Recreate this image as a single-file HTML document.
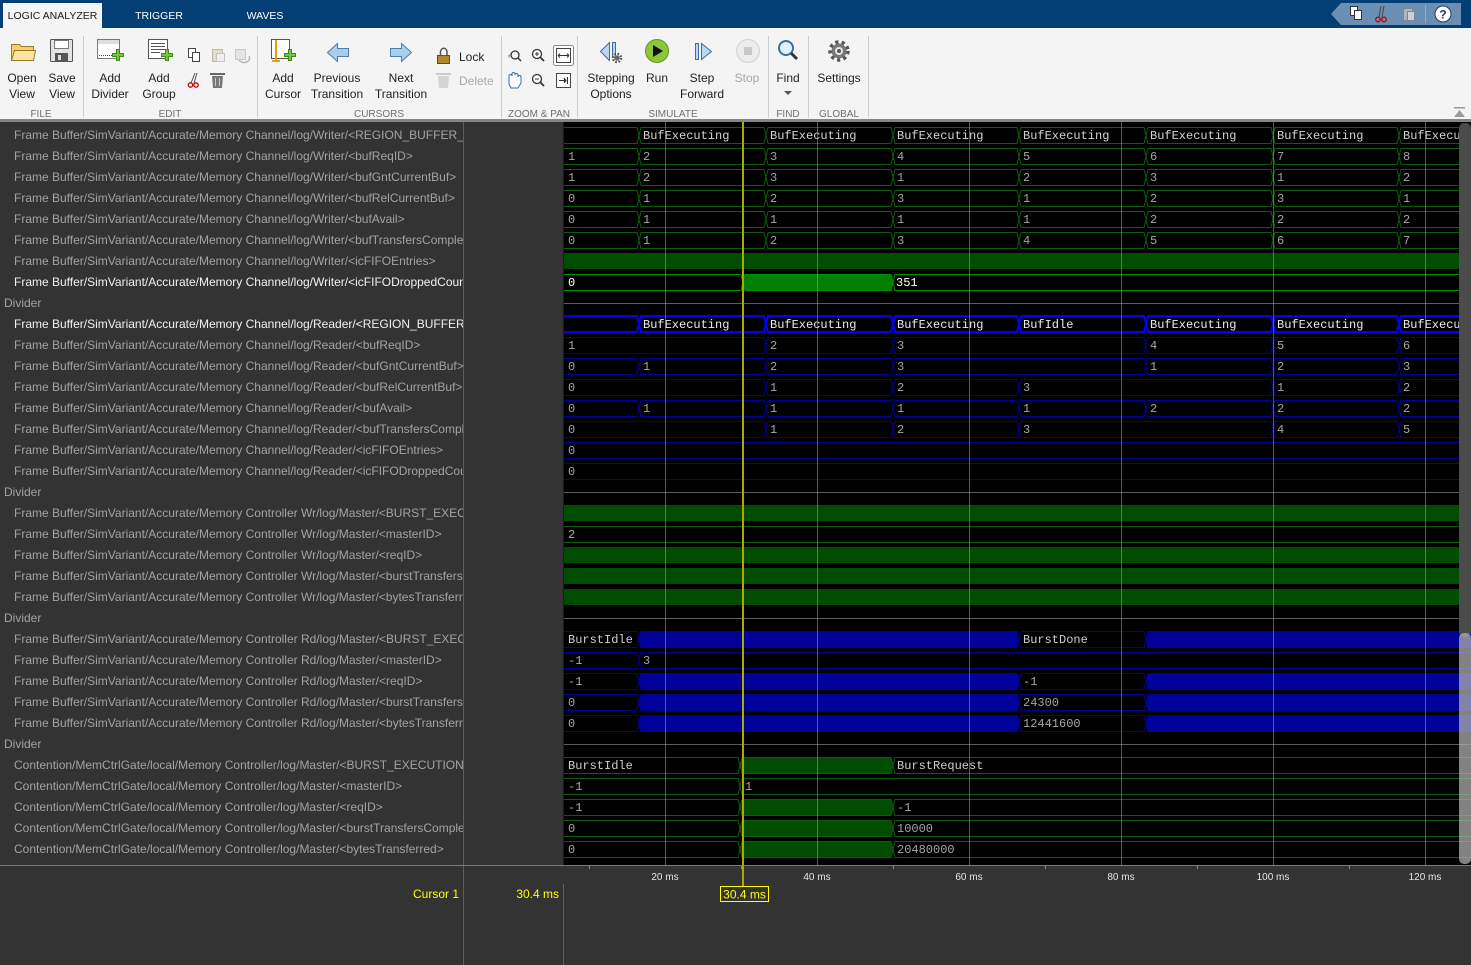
<!DOCTYPE html>
<html><head><meta charset="utf-8"><style>
html,body{margin:0;padding:0;background:#333;width:1471px;height:965px;overflow:hidden}
svg{position:absolute;left:0;top:0;display:block}
.s{font-family:"Liberation Sans",Arial,sans-serif}
.m{font-family:"Liberation Mono","Courier New",monospace}
</style></head><body>
<svg width="1471" height="965" viewBox="0 0 1471 965" xmlns="http://www.w3.org/2000/svg">
<defs>
<clipPath id="nc"><rect x="0" y="122" width="463" height="743"/></clipPath>
<clipPath id="wc"><rect x="564" y="122" width="907" height="743"/></clipPath>
</defs>
<rect x="0" y="0" width="1471" height="965" fill="#333"/>
<rect x="0" y="0" width="1471" height="28" fill="#033f74"/>
<rect x="3" y="3" width="99" height="25" fill="#f4f4f4"/>
<g class="s" font-size="10.5">
<text x="52.5" y="19" text-anchor="middle" fill="#1a1a1a">LOGIC ANALYZER</text>
<text x="159" y="19" text-anchor="middle" fill="#fff">TRIGGER</text>
<text x="265" y="19" text-anchor="middle" fill="#fff">WAVES</text>
</g>
<polygon points="1331,14 1341,3 1461,3 1461,25 1341,25" fill="#6b8fb4"/>
<rect x="1350.5" y="6.5" width="7" height="9" fill="#fff" stroke="#333"/>
<rect x="1354.5" y="10.5" width="7" height="9" fill="#fff" stroke="#333"/>
<line x1="1381" y1="6" x2="1379" y2="17" stroke="#444"/><line x1="1384" y1="6" x2="1382" y2="17" stroke="#444"/>
<circle cx="1378" cy="19.5" r="2.3" fill="none" stroke="#c00" stroke-width="1.3"/>
<circle cx="1384" cy="19.5" r="2.3" fill="none" stroke="#c00" stroke-width="1.3"/>
<rect x="1403.5" y="8.5" width="9" height="12" fill="#aab6c2" stroke="#7a8794"/>
<rect x="1407.5" y="11.5" width="7" height="9" fill="#c9d1d9" stroke="#7a8794"/>
<line x1="1425.5" y1="5" x2="1425.5" y2="23" stroke="#95aec7"/>
<circle cx="1443" cy="14" r="8" fill="#fff" stroke="#1c3b64"/>
<text x="1443" y="18.5" text-anchor="middle" class="s" font-size="12" font-weight="bold" fill="#1c3b64">?</text>

<rect x="0" y="28" width="1471" height="92" fill="#f4f4f4"/>
<rect x="0" y="119" width="1471" height="3" fill="#858585"/>
<g stroke="#cdcdcd">
<line x1="83.5" y1="36" x2="83.5" y2="118"/><line x1="257.5" y1="36" x2="257.5" y2="118"/>
<line x1="501.5" y1="36" x2="501.5" y2="118"/><line x1="577.5" y1="36" x2="577.5" y2="118"/>
<line x1="768.5" y1="36" x2="768.5" y2="118"/><line x1="808.5" y1="36" x2="808.5" y2="118"/>
<line x1="868.5" y1="36" x2="868.5" y2="118"/>
</g>
<path d="M11.5,44.5h8l2,2h12v14h-22z" fill="#f2cf6b" stroke="#9a7a28"/>
<path d="M11.5,60.5l3,-10h21l-2,10z" fill="#fbe6a0" stroke="#9a7a28"/>
<rect x="50.5" y="39.5" width="22" height="22" rx="1" fill="#e4e4e4" stroke="#555"/>
<rect x="54.5" y="40.5" width="14" height="8" fill="#fff" stroke="#777"/>
<rect x="55" y="53" width="13" height="8" fill="#555"/><rect x="58" y="55" width="3" height="5" fill="#ddd"/>
<rect x="97.5" y="39.5" width="22" height="19" fill="#fff" stroke="#777"/>
<rect x="98" y="40" width="21" height="4" fill="#ddd"/>
<line x1="99" y1="55.5" x2="112" y2="55.5" stroke="#444" stroke-dasharray="1,1"/>
<path d="M112.5,53.5h4v-4h3v4h4v3h-4v4h-3v-4h-4z" fill="#7cc242" stroke="#3d8a1a"/>
<rect x="148.5" y="39.5" width="19" height="19" fill="#fff" stroke="#555"/>
<g stroke="#555"><line x1="151" y1="43.5" x2="165" y2="43.5"/><line x1="151" y1="46.5" x2="165" y2="46.5"/><line x1="151" y1="49.5" x2="165" y2="49.5"/><line x1="151" y1="52.5" x2="160" y2="52.5"/></g>
<path d="M161.5,53.5h4v-4h3v4h4v3h-4v4h-3v-4h-4z" fill="#7cc242" stroke="#3d8a1a"/>
<rect x="188.5" y="48.5" width="7" height="9" fill="#fff" stroke="#444"/><rect x="192.5" y="52.5" width="7" height="9" fill="#fff" stroke="#444"/>
<rect x="212.5" y="49.5" width="10" height="12" fill="#e6dccb" stroke="#c4b9a8"/><rect x="216.5" y="53.5" width="8" height="8" fill="#eee" stroke="#c4c4c4"/>
<rect x="235.5" y="49.5" width="10" height="10" fill="#e4e4e4" stroke="#c8c8c8"/><path d="M239,60a5,4 0 1 0 10,-4" fill="none" stroke="#bbb" stroke-width="1.5"/>
<line x1="195" y1="73" x2="191" y2="83" stroke="#555"/><line x1="197" y1="73" x2="194" y2="83" stroke="#555"/>
<circle cx="190.5" cy="85" r="2.2" fill="none" stroke="#c00" stroke-width="1.3"/><circle cx="196" cy="85" r="2.2" fill="none" stroke="#c00" stroke-width="1.3"/>
<rect x="210" y="73" width="15" height="2" fill="#666"/><path d="M212,76h11l-1,12h-9z" fill="#777"/>
<g stroke="#ccc"><line x1="215.5" y1="78" x2="215.5" y2="86"/><line x1="219.5" y1="78" x2="219.5" y2="86"/></g>
<rect x="271.5" y="39.5" width="18" height="19" fill="#fff" stroke="#555"/>
<line x1="276" y1="40" x2="276" y2="62" stroke="#e8a010" stroke-width="2"/>
<rect x="272" y="60" width="8" height="2" fill="#e8a010"/>
<path d="M284.5,53.5h4v-4h3v4h4v3h-4v4h-3v-4h-4z" fill="#7cc242" stroke="#3d8a1a"/>
<polygon points="327.5,52.5 337.5,43.5 337.5,48.5 348.5,48.5 348.5,56.5 337.5,56.5 337.5,61.5" fill="#a9cdea" stroke="#4a7fb0"/>
<polygon points="411.5,52.5 401.5,43.5 401.5,48.5 390.5,48.5 390.5,56.5 401.5,56.5 401.5,61.5" fill="#a9cdea" stroke="#4a7fb0"/>
<path d="M440.5,55v-3a3,3.5 0 0 1 6.5,0v3" fill="none" stroke="#555" stroke-width="1.5"/>
<rect x="437.5" y="55.5" width="12" height="8" fill="#b3862b" stroke="#6a4c12"/>
<rect x="436" y="73" width="15" height="2" fill="#ccc"/><path d="M438,76h11l-1,12h-9z" fill="#d4d4d4"/>
<circle cx="515" cy="55" r="4" fill="none" stroke="#333" stroke-width="1.3"/><line x1="518" y1="58" x2="521" y2="61" stroke="#333" stroke-width="1.5"/>
<text x="508" y="58" font-size="7" class="s" fill="#333">‹</text>
<circle cx="537" cy="54" r="4.5" fill="#fff" stroke="#333" stroke-width="1.3"/><line x1="540" y1="57" x2="544" y2="61" stroke="#333" stroke-width="1.8"/>
<path d="M535,54h4M537,52v4" stroke="#333"/>
<rect x="553.5" y="45.5" width="20" height="20" rx="2" fill="#fff" stroke="#4c9be0"/>
<rect x="556.5" y="48.5" width="14" height="14" fill="#fff" stroke="#444"/>
<path d="M558,55.5h11M558,55.5l2,-2M558,55.5l2,2M569,55.5l-2,-2M569,55.5l-2,2" stroke="#333"/>
<path d="M509,84v-8a1.5,1.5 0 0 1 3,0v-2a1.5,1.5 0 0 1 3,0v1a1.5,1.5 0 0 1 3,0v2a1.5,1.5 0 0 1 3,0v6l-3,5h-7z" fill="#fff" stroke="#3a6ea8"/>
<circle cx="537" cy="79" r="4.5" fill="#fff" stroke="#333" stroke-width="1.3"/><line x1="540" y1="82" x2="544" y2="86" stroke="#333" stroke-width="1.8"/>
<path d="M535,79h4" stroke="#333"/>
<rect x="556.5" y="73.5" width="14" height="14" fill="#fff" stroke="#444"/>
<path d="M559,80.5h7M564,78l2,2.5l-2,2.5M567.5,77v7" stroke="#333"/>
<polygon points="600.5,51.5 609.5,42.5 609.5,60.5" fill="#bcd6ee" stroke="#3a6ea8"/>
<rect x="612.5" y="42.5" width="3" height="15" fill="#bcd6ee" stroke="#3a6ea8"/>
<circle cx="617" cy="58" r="4" fill="none" stroke="#555" stroke-width="2.5" stroke-dasharray="1.6 1.6"/><circle cx="617" cy="58" r="2.5" fill="#666"/>
<circle cx="657" cy="51" r="11.5" fill="#8cc63f" stroke="#5a9a1e"/>
<polygon points="653,45 653,57 663,51" fill="#111"/>
<rect x="695.5" y="43.5" width="3" height="16" fill="#bcd6ee" stroke="#3a6ea8"/>
<polygon points="701.5,43.5 701.5,59.5 711.5,51.5" fill="#bcd6ee" stroke="#3a6ea8"/>
<circle cx="748" cy="51" r="11.5" fill="#ececec" stroke="#d2d2d2"/>
<rect x="744" y="47" width="8" height="8" fill="#c8c8c8"/>
<circle cx="786" cy="48" r="7" fill="#e2f1fb" stroke="#3a6ea8" stroke-width="2"/>
<line x1="791" y1="53" x2="797" y2="59" stroke="#333" stroke-width="3"/>
<polygon points="784,91 792,91 788,95" fill="#555"/>
<circle cx="839" cy="51" r="9" fill="none" stroke="#555" stroke-width="3.5" stroke-dasharray="3.2 3.2"/>
<circle cx="839" cy="51" r="7.5" fill="#777"/><circle cx="839" cy="51" r="4" fill="#e6e6e6"/><circle cx="839" cy="51" r="2" fill="#555"/>
<rect x="1454" y="107" width="11" height="1.5" fill="#999"/><polygon points="1454,117 1465,117 1459.5,110" fill="#999"/>
<g class="s" font-size="12" fill="#222" text-anchor="middle">
<text x="22" y="82">Open</text><text x="22" y="98">View</text>
<text x="62" y="82">Save</text><text x="62" y="98">View</text>
<text x="110" y="82">Add</text><text x="110" y="98">Divider</text>
<text x="159" y="82">Add</text><text x="159" y="98">Group</text>
<text x="283" y="82">Add</text><text x="283" y="98">Cursor</text>
<text x="337" y="82">Previous</text><text x="337" y="98">Transition</text>
<text x="401" y="82">Next</text><text x="401" y="98">Transition</text>
<text x="611" y="82">Stepping</text><text x="611" y="98">Options</text>
<text x="657" y="82">Run</text>
<text x="702" y="82">Step</text><text x="702" y="98">Forward</text>
<text x="747" y="82" fill="#a8a8a8">Stop</text>
<text x="788" y="82">Find</text>
<text x="839" y="82">Settings</text>
</g>
<text x="459" y="61" class="s" font-size="12" fill="#222">Lock</text>
<text x="459" y="85" class="s" font-size="12" fill="#aaa">Delete</text>
<g class="s" font-size="10" fill="#707070" text-anchor="middle">
<text x="41" y="117">FILE</text><text x="170" y="117">EDIT</text><text x="379" y="117">CURSORS</text>
<text x="539" y="117">ZOOM &amp; PAN</text><text x="673" y="117">SIMULATE</text><text x="788" y="117">FIND</text><text x="839" y="117">GLOBAL</text>
</g>

<g clip-path="url(#nc)" class="s" font-size="12" fill="#a3a3a3">
<text x="14" y="139">Frame Buffer/SimVariant/Accurate/Memory Channel/log/Writer/&lt;REGION_BUFFER_EXECUTION&gt;</text>
<text x="14" y="160">Frame Buffer/SimVariant/Accurate/Memory Channel/log/Writer/&lt;bufReqID&gt;</text>
<text x="14" y="181">Frame Buffer/SimVariant/Accurate/Memory Channel/log/Writer/&lt;bufGntCurrentBuf&gt;</text>
<text x="14" y="202">Frame Buffer/SimVariant/Accurate/Memory Channel/log/Writer/&lt;bufRelCurrentBuf&gt;</text>
<text x="14" y="223">Frame Buffer/SimVariant/Accurate/Memory Channel/log/Writer/&lt;bufAvail&gt;</text>
<text x="14" y="244">Frame Buffer/SimVariant/Accurate/Memory Channel/log/Writer/&lt;bufTransfersCompleted&gt;</text>
<text x="14" y="265">Frame Buffer/SimVariant/Accurate/Memory Channel/log/Writer/&lt;icFIFOEntries&gt;</text>
<text x="14" y="286" fill="#f2f2f2">Frame Buffer/SimVariant/Accurate/Memory Channel/log/Writer/&lt;icFIFODroppedCount&gt;</text>
<text x="4" y="307">Divider</text>
<text x="14" y="328" fill="#f2f2f2">Frame Buffer/SimVariant/Accurate/Memory Channel/log/Reader/&lt;REGION_BUFFER_EXECUTION&gt;</text>
<text x="14" y="349">Frame Buffer/SimVariant/Accurate/Memory Channel/log/Reader/&lt;bufReqID&gt;</text>
<text x="14" y="370">Frame Buffer/SimVariant/Accurate/Memory Channel/log/Reader/&lt;bufGntCurrentBuf&gt;</text>
<text x="14" y="391">Frame Buffer/SimVariant/Accurate/Memory Channel/log/Reader/&lt;bufRelCurrentBuf&gt;</text>
<text x="14" y="412">Frame Buffer/SimVariant/Accurate/Memory Channel/log/Reader/&lt;bufAvail&gt;</text>
<text x="14" y="433">Frame Buffer/SimVariant/Accurate/Memory Channel/log/Reader/&lt;bufTransfersCompleted&gt;</text>
<text x="14" y="454">Frame Buffer/SimVariant/Accurate/Memory Channel/log/Reader/&lt;icFIFOEntries&gt;</text>
<text x="14" y="475">Frame Buffer/SimVariant/Accurate/Memory Channel/log/Reader/&lt;icFIFODroppedCount&gt;</text>
<text x="4" y="496">Divider</text>
<text x="14" y="517">Frame Buffer/SimVariant/Accurate/Memory Controller Wr/log/Master/&lt;BURST_EXECUTION&gt;</text>
<text x="14" y="538">Frame Buffer/SimVariant/Accurate/Memory Controller Wr/log/Master/&lt;masterID&gt;</text>
<text x="14" y="559">Frame Buffer/SimVariant/Accurate/Memory Controller Wr/log/Master/&lt;reqID&gt;</text>
<text x="14" y="580">Frame Buffer/SimVariant/Accurate/Memory Controller Wr/log/Master/&lt;burstTransfersCompleted&gt;</text>
<text x="14" y="601">Frame Buffer/SimVariant/Accurate/Memory Controller Wr/log/Master/&lt;bytesTransferred&gt;</text>
<text x="4" y="622">Divider</text>
<text x="14" y="643">Frame Buffer/SimVariant/Accurate/Memory Controller Rd/log/Master/&lt;BURST_EXECUTION&gt;</text>
<text x="14" y="664">Frame Buffer/SimVariant/Accurate/Memory Controller Rd/log/Master/&lt;masterID&gt;</text>
<text x="14" y="685">Frame Buffer/SimVariant/Accurate/Memory Controller Rd/log/Master/&lt;reqID&gt;</text>
<text x="14" y="706">Frame Buffer/SimVariant/Accurate/Memory Controller Rd/log/Master/&lt;burstTransfersCompleted&gt;</text>
<text x="14" y="727">Frame Buffer/SimVariant/Accurate/Memory Controller Rd/log/Master/&lt;bytesTransferred&gt;</text>
<text x="4" y="748">Divider</text>
<text x="14" y="769">Contention/MemCtrlGate/local/Memory Controller/log/Master/&lt;BURST_EXECUTION&gt;</text>
<text x="14" y="790">Contention/MemCtrlGate/local/Memory Controller/log/Master/&lt;masterID&gt;</text>
<text x="14" y="811">Contention/MemCtrlGate/local/Memory Controller/log/Master/&lt;reqID&gt;</text>
<text x="14" y="832">Contention/MemCtrlGate/local/Memory Controller/log/Master/&lt;burstTransfersCompleted&gt;</text>
<text x="14" y="853">Contention/MemCtrlGate/local/Memory Controller/log/Master/&lt;bytesTransferred&gt;</text>
</g>
<line x1="463.5" y1="122" x2="463.5" y2="965" stroke="#5e5e5e"/>
<line x1="563.5" y1="884" x2="563.5" y2="965" stroke="#5e5e5e"/>

<rect x="564" y="122" width="907" height="743" fill="#000"/>
<line x1="563.5" y1="122" x2="563.5" y2="865" stroke="#1c1c1c"/>
<g clip-path="url(#wc)" fill="none" stroke-width="1">
<g stroke="#0d5c0d">
<path transform="translate(0,135.5)" d="M564,-8H637L639,0L637,8H564 M641,-8H764L766,0L764,8H641L639,0Z M768,-8H891L893,0L891,8H768L766,0Z M895,-8H1017L1019,0L1017,8H895L893,0Z M1021,-8H1144L1146,0L1144,8H1021L1019,0Z M1148,-8H1271L1273,0L1271,8H1148L1146,0Z M1275,-8H1397L1399,0L1397,8H1275L1273,0Z M1471,-8H1401L1399,0L1401,8H1471"/>
<path transform="translate(0,156.5)" d="M564,-8H637L639,0L637,8H564 M641,-8H764L766,0L764,8H641L639,0Z M768,-8H891L893,0L891,8H768L766,0Z M895,-8H1017L1019,0L1017,8H895L893,0Z M1021,-8H1144L1146,0L1144,8H1021L1019,0Z M1148,-8H1271L1273,0L1271,8H1148L1146,0Z M1275,-8H1397L1399,0L1397,8H1275L1273,0Z M1471,-8H1401L1399,0L1401,8H1471"/>
<path transform="translate(0,177.5)" d="M564,-8H637L639,0L637,8H564 M641,-8H764L766,0L764,8H641L639,0Z M768,-8H891L893,0L891,8H768L766,0Z M895,-8H1017L1019,0L1017,8H895L893,0Z M1021,-8H1144L1146,0L1144,8H1021L1019,0Z M1148,-8H1271L1273,0L1271,8H1148L1146,0Z M1275,-8H1397L1399,0L1397,8H1275L1273,0Z M1471,-8H1401L1399,0L1401,8H1471"/>
<path transform="translate(0,198.5)" d="M564,-8H637L639,0L637,8H564 M641,-8H764L766,0L764,8H641L639,0Z M768,-8H891L893,0L891,8H768L766,0Z M895,-8H1017L1019,0L1017,8H895L893,0Z M1021,-8H1144L1146,0L1144,8H1021L1019,0Z M1148,-8H1271L1273,0L1271,8H1148L1146,0Z M1275,-8H1397L1399,0L1397,8H1275L1273,0Z M1471,-8H1401L1399,0L1401,8H1471"/>
<path transform="translate(0,219.5)" d="M564,-8H637L639,0L637,8H564 M641,-8H764L766,0L764,8H641L639,0Z M768,-8H891L893,0L891,8H768L766,0Z M895,-8H1017L1019,0L1017,8H895L893,0Z M1021,-8H1144L1146,0L1144,8H1021L1019,0Z M1148,-8H1271L1273,0L1271,8H1148L1146,0Z M1275,-8H1397L1399,0L1397,8H1275L1273,0Z M1471,-8H1401L1399,0L1401,8H1471"/>
<path transform="translate(0,240.5)" d="M564,-8H637L639,0L637,8H564 M641,-8H764L766,0L764,8H641L639,0Z M768,-8H891L893,0L891,8H768L766,0Z M895,-8H1017L1019,0L1017,8H895L893,0Z M1021,-8H1144L1146,0L1144,8H1021L1019,0Z M1148,-8H1271L1273,0L1271,8H1148L1146,0Z M1275,-8H1397L1399,0L1397,8H1275L1273,0Z M1471,-8H1401L1399,0L1401,8H1471"/>
</g>
<rect x="564" y="253" width="907" height="16" fill="#004c00"/>
<g stroke="#009000" transform="translate(0,282.5)">
<path d="M564,-8H741L743,0L741,8H564"/>
<path d="M745,-8H891L893,0L891,8H745L743,0Z" fill="#008000"/>
<path d="M1471,-8H895L893,0L895,8H1471"/>
</g>
<g stroke="#5c5c5c"><line x1="564" y1="303.5" x2="1471" y2="303.5"/><line x1="564" y1="492.5" x2="1471" y2="492.5"/><line x1="564" y1="618.5" x2="1471" y2="618.5"/><line x1="564" y1="744.5" x2="1471" y2="744.5"/></g>
<path stroke="#0000ff" stroke-width="2" transform="translate(0,324)" d="M564,-8H637L639,0L637,8H564 M641,-8H764L766,0L764,8H641L639,0Z M768,-8H891L893,0L891,8H768L766,0Z M895,-8H1017L1019,0L1017,8H895L893,0Z M1021,-8H1144L1146,0L1144,8H1021L1019,0Z M1148,-8H1271L1273,0L1271,8H1148L1146,0Z M1275,-8H1397L1399,0L1397,8H1275L1273,0Z M1471,-8H1401L1399,0L1401,8H1471"/>
<g stroke="#00009a">
<path transform="translate(0,345.5)" d="M564,-8H764L766,0L764,8H564 M768,-8H891L893,0L891,8H768L766,0Z M895,-8H1144L1146,0L1144,8H895L893,0Z M1148,-8H1271L1273,0L1271,8H1148L1146,0Z M1275,-8H1397L1399,0L1397,8H1275L1273,0Z M1471,-8H1401L1399,0L1401,8H1471"/>
<path transform="translate(0,366.5)" d="M564,-8H637L639,0L637,8H564 M641,-8H764L766,0L764,8H641L639,0Z M768,-8H891L893,0L891,8H768L766,0Z M895,-8H1144L1146,0L1144,8H895L893,0Z M1148,-8H1271L1273,0L1271,8H1148L1146,0Z M1275,-8H1397L1399,0L1397,8H1275L1273,0Z M1471,-8H1401L1399,0L1401,8H1471"/>
<path transform="translate(0,387.5)" d="M564,-8H764L766,0L764,8H564 M768,-8H891L893,0L891,8H768L766,0Z M895,-8H1017L1019,0L1017,8H895L893,0Z M1021,-8H1271L1273,0L1271,8H1021L1019,0Z M1275,-8H1397L1399,0L1397,8H1275L1273,0Z M1471,-8H1401L1399,0L1401,8H1471"/>
<path transform="translate(0,408.5)" d="M564,-8H637L639,0L637,8H564 M641,-8H764L766,0L764,8H641L639,0Z M768,-8H891L893,0L891,8H768L766,0Z M895,-8H1017L1019,0L1017,8H895L893,0Z M1021,-8H1144L1146,0L1144,8H1021L1019,0Z M1148,-8H1271L1273,0L1271,8H1148L1146,0Z M1275,-8H1397L1399,0L1397,8H1275L1273,0Z M1471,-8H1401L1399,0L1401,8H1471"/>
<path transform="translate(0,429.5)" d="M564,-8H764L766,0L764,8H564 M768,-8H891L893,0L891,8H768L766,0Z M895,-8H1017L1019,0L1017,8H895L893,0Z M1021,-8H1271L1273,0L1271,8H1021L1019,0Z M1275,-8H1397L1399,0L1397,8H1275L1273,0Z M1471,-8H1401L1399,0L1401,8H1471"/>
<path transform="translate(0,450.5)" d="M564,-8H1471 M564,8H1471"/>
<path transform="translate(0,471.5)" d="M564,-8H1471 M564,8H1471"/>
</g>
<rect x="564" y="505" width="907" height="16" fill="#004c00"/>
<path stroke="#0d5c0d" transform="translate(0,534.5)" d="M564,-8H1471 M564,8H1471"/>
<rect x="564" y="547" width="907" height="16" fill="#004c00"/>
<rect x="564" y="568" width="907" height="16" fill="#004c00"/>
<rect x="564" y="589" width="907" height="16" fill="#004c00"/>
<g stroke="#00009a">
<g transform="translate(0,639.5)"><path d="M564,-8H637L639,0L637,8H564 M1021,-8H1144L1146,0L1144,8H1021L1019,0Z"/><path d="M641,-8H1017L1019,0L1017,8H641L639,0Z M1148,-8H1471V8H1148L1146,0Z" fill="#00009a"/></g>
<path transform="translate(0,660.5)" d="M564,-8H637L639,0L637,8H564 M1471,-8H641L639,0L641,8H1471"/>
<g transform="translate(0,681.5)"><path d="M564,-8H637L639,0L637,8H564 M1021,-8H1144L1146,0L1144,8H1021L1019,0Z"/><path d="M641,-8H1017L1019,0L1017,8H641L639,0Z M1148,-8H1471V8H1148L1146,0Z" fill="#00009a"/></g>
<g transform="translate(0,702.5)"><path d="M564,-8H637L639,0L637,8H564 M1021,-8H1144L1146,0L1144,8H1021L1019,0Z"/><path d="M641,-8H1017L1019,0L1017,8H641L639,0Z M1148,-8H1471V8H1148L1146,0Z" fill="#00009a"/></g>
<g transform="translate(0,723.5)"><path d="M564,-8H637L639,0L637,8H564 M1021,-8H1144L1146,0L1144,8H1021L1019,0Z"/><path d="M641,-8H1017L1019,0L1017,8H641L639,0Z M1148,-8H1471V8H1148L1146,0Z" fill="#00009a"/></g>
</g>
<g stroke="#0d5c0d">
<g transform="translate(0,765.5)"><path d="M564,-8H738L740,0L738,8H564 M1471,-8H895L893,0L895,8H1471"/><path d="M742,-8H891L893,0L891,8H742L740,0Z" fill="#004c00"/></g>
<path transform="translate(0,786.5)" d="M564,-8H738L740,0L738,8H564 M1471,-8H742L740,0L742,8H1471"/>
<g transform="translate(0,807.5)"><path d="M564,-8H738L740,0L738,8H564 M1471,-8H895L893,0L895,8H1471"/><path d="M742,-8H891L893,0L891,8H742L740,0Z" fill="#004c00"/></g>
<g transform="translate(0,828.5)"><path d="M564,-8H738L740,0L738,8H564 M1471,-8H895L893,0L895,8H1471"/><path d="M742,-8H891L893,0L891,8H742L740,0Z" fill="#004c00"/></g>
<g transform="translate(0,849.5)"><path d="M564,-8H738L740,0L738,8H564 M1471,-8H895L893,0L895,8H1471"/><path d="M742,-8H891L893,0L891,8H742L740,0Z" fill="#004c00"/></g>
</g>
<g class="m" font-size="12" stroke="none">
<g fill="#d4d4d4">
<text x="643" y="139">BufExecuting</text><text x="770" y="139">BufExecuting</text><text x="897" y="139">BufExecuting</text><text x="1023" y="139">BufExecuting</text><text x="1150" y="139">BufExecuting</text><text x="1277" y="139">BufExecuting</text><text x="1403" y="139">BufExecuting</text>
</g>
<g fill="#a6a6a6">
<text x="568" y="160">1</text><text x="643" y="160">2</text><text x="770" y="160">3</text><text x="897" y="160">4</text><text x="1023" y="160">5</text><text x="1150" y="160">6</text><text x="1277" y="160">7</text><text x="1403" y="160">8</text>
<text x="568" y="181">1</text><text x="643" y="181">2</text><text x="770" y="181">3</text><text x="897" y="181">1</text><text x="1023" y="181">2</text><text x="1150" y="181">3</text><text x="1277" y="181">1</text><text x="1403" y="181">2</text>
<text x="568" y="202">0</text><text x="643" y="202">1</text><text x="770" y="202">2</text><text x="897" y="202">3</text><text x="1023" y="202">1</text><text x="1150" y="202">2</text><text x="1277" y="202">3</text><text x="1403" y="202">1</text>
<text x="568" y="223">0</text><text x="643" y="223">1</text><text x="770" y="223">1</text><text x="897" y="223">1</text><text x="1023" y="223">1</text><text x="1150" y="223">2</text><text x="1277" y="223">2</text><text x="1403" y="223">2</text>
<text x="568" y="244">0</text><text x="643" y="244">1</text><text x="770" y="244">2</text><text x="897" y="244">3</text><text x="1023" y="244">4</text><text x="1150" y="244">5</text><text x="1277" y="244">6</text><text x="1403" y="244">7</text>
</g>
<text x="568" y="286" fill="#fff">0</text><text x="896" y="286" fill="#fff">351</text>
<g fill="#ececec">
<text x="643" y="328">BufExecuting</text><text x="770" y="328">BufExecuting</text><text x="897" y="328">BufExecuting</text><text x="1023" y="328">BufIdle</text><text x="1150" y="328">BufExecuting</text><text x="1277" y="328">BufExecuting</text><text x="1403" y="328">BufExecuting</text>
</g>
<g fill="#a6a6a6">
<text x="568" y="349">1</text><text x="770" y="349">2</text><text x="897" y="349">3</text><text x="1150" y="349">4</text><text x="1277" y="349">5</text><text x="1403" y="349">6</text>
<text x="568" y="370">0</text><text x="643" y="370">1</text><text x="770" y="370">2</text><text x="897" y="370">3</text><text x="1150" y="370">1</text><text x="1277" y="370">2</text><text x="1403" y="370">3</text>
<text x="568" y="391">0</text><text x="770" y="391">1</text><text x="897" y="391">2</text><text x="1023" y="391">3</text><text x="1277" y="391">1</text><text x="1403" y="391">2</text>
<text x="568" y="412">0</text><text x="643" y="412">1</text><text x="770" y="412">1</text><text x="897" y="412">1</text><text x="1023" y="412">1</text><text x="1150" y="412">2</text><text x="1277" y="412">2</text><text x="1403" y="412">2</text>
<text x="568" y="433">0</text><text x="770" y="433">1</text><text x="897" y="433">2</text><text x="1023" y="433">3</text><text x="1277" y="433">4</text><text x="1403" y="433">5</text>
<text x="568" y="454">0</text>
<text x="568" y="475">0</text>
<text x="568" y="538">2</text>
<text x="568" y="664">-1</text><text x="643" y="664">3</text>
<text x="568" y="685">-1</text><text x="1023" y="685">-1</text>
<text x="568" y="706">0</text><text x="1023" y="706">24300</text>
<text x="568" y="727">0</text><text x="1023" y="727">12441600</text>
<text x="568" y="790">-1</text><text x="745" y="790">1</text>
<text x="568" y="811">-1</text><text x="897" y="811">-1</text>
<text x="568" y="832">0</text><text x="897" y="832">10000</text>
<text x="568" y="853">0</text><text x="897" y="853">20480000</text>
</g>
<g fill="#cfcfcf">
<text x="568" y="643">BurstIdle</text><text x="1023" y="643">BurstDone</text>
<text x="568" y="769">BurstIdle</text><text x="897" y="769">BurstRequest</text>
</g>
</g>
<g stroke="#a0a0a0" stroke-opacity="0.55">
<line x1="665.5" y1="122" x2="665.5" y2="865"/><line x1="817.5" y1="122" x2="817.5" y2="865"/>
<line x1="969.5" y1="122" x2="969.5" y2="865"/><line x1="1121.5" y1="122" x2="1121.5" y2="865"/>
<line x1="1273.5" y1="122" x2="1273.5" y2="865"/><line x1="1425.5" y1="122" x2="1425.5" y2="865"/>
</g>
</g>
<line x1="0" y1="865.5" x2="1471" y2="865.5" stroke="#7a7a7a"/>
<g stroke="#8a8a8a">
<line x1="589.5" y1="866" x2="589.5" y2="869"/><line x1="741.5" y1="866" x2="741.5" y2="869"/><line x1="893.5" y1="866" x2="893.5" y2="869"/>
<line x1="1045.5" y1="866" x2="1045.5" y2="869"/><line x1="1197.5" y1="866" x2="1197.5" y2="869"/><line x1="1349.5" y1="866" x2="1349.5" y2="869"/>
</g>
<g class="s" font-size="10" fill="#e6e6e6" text-anchor="middle">
<text x="665" y="880">20 ms</text><text x="817" y="880">40 ms</text><text x="969" y="880">60 ms</text>
<text x="1121" y="880">80 ms</text><text x="1273" y="880">100 ms</text><text x="1425" y="880">120 ms</text>
</g>
<rect x="742" y="122" width="2" height="764" fill="#aaaa00"/>
<rect x="720.5" y="886.5" width="48" height="15" fill="#333" stroke="#ffff00"/>
<g class="s" font-size="12" fill="#ffff00">
<text x="744.5" y="898.5" text-anchor="middle">30.4 ms</text>
<text x="459" y="898" text-anchor="end">Cursor 1</text>
<text x="559" y="898" text-anchor="end">30.4 ms</text>
</g>
<rect x="1459" y="123" width="12" height="514" rx="5" fill="#4b4b4b"/>
<rect x="1459" y="633" width="12" height="231" rx="5" fill="#b4b4b4" fill-opacity="0.72"/>
</svg>
</body></html>
